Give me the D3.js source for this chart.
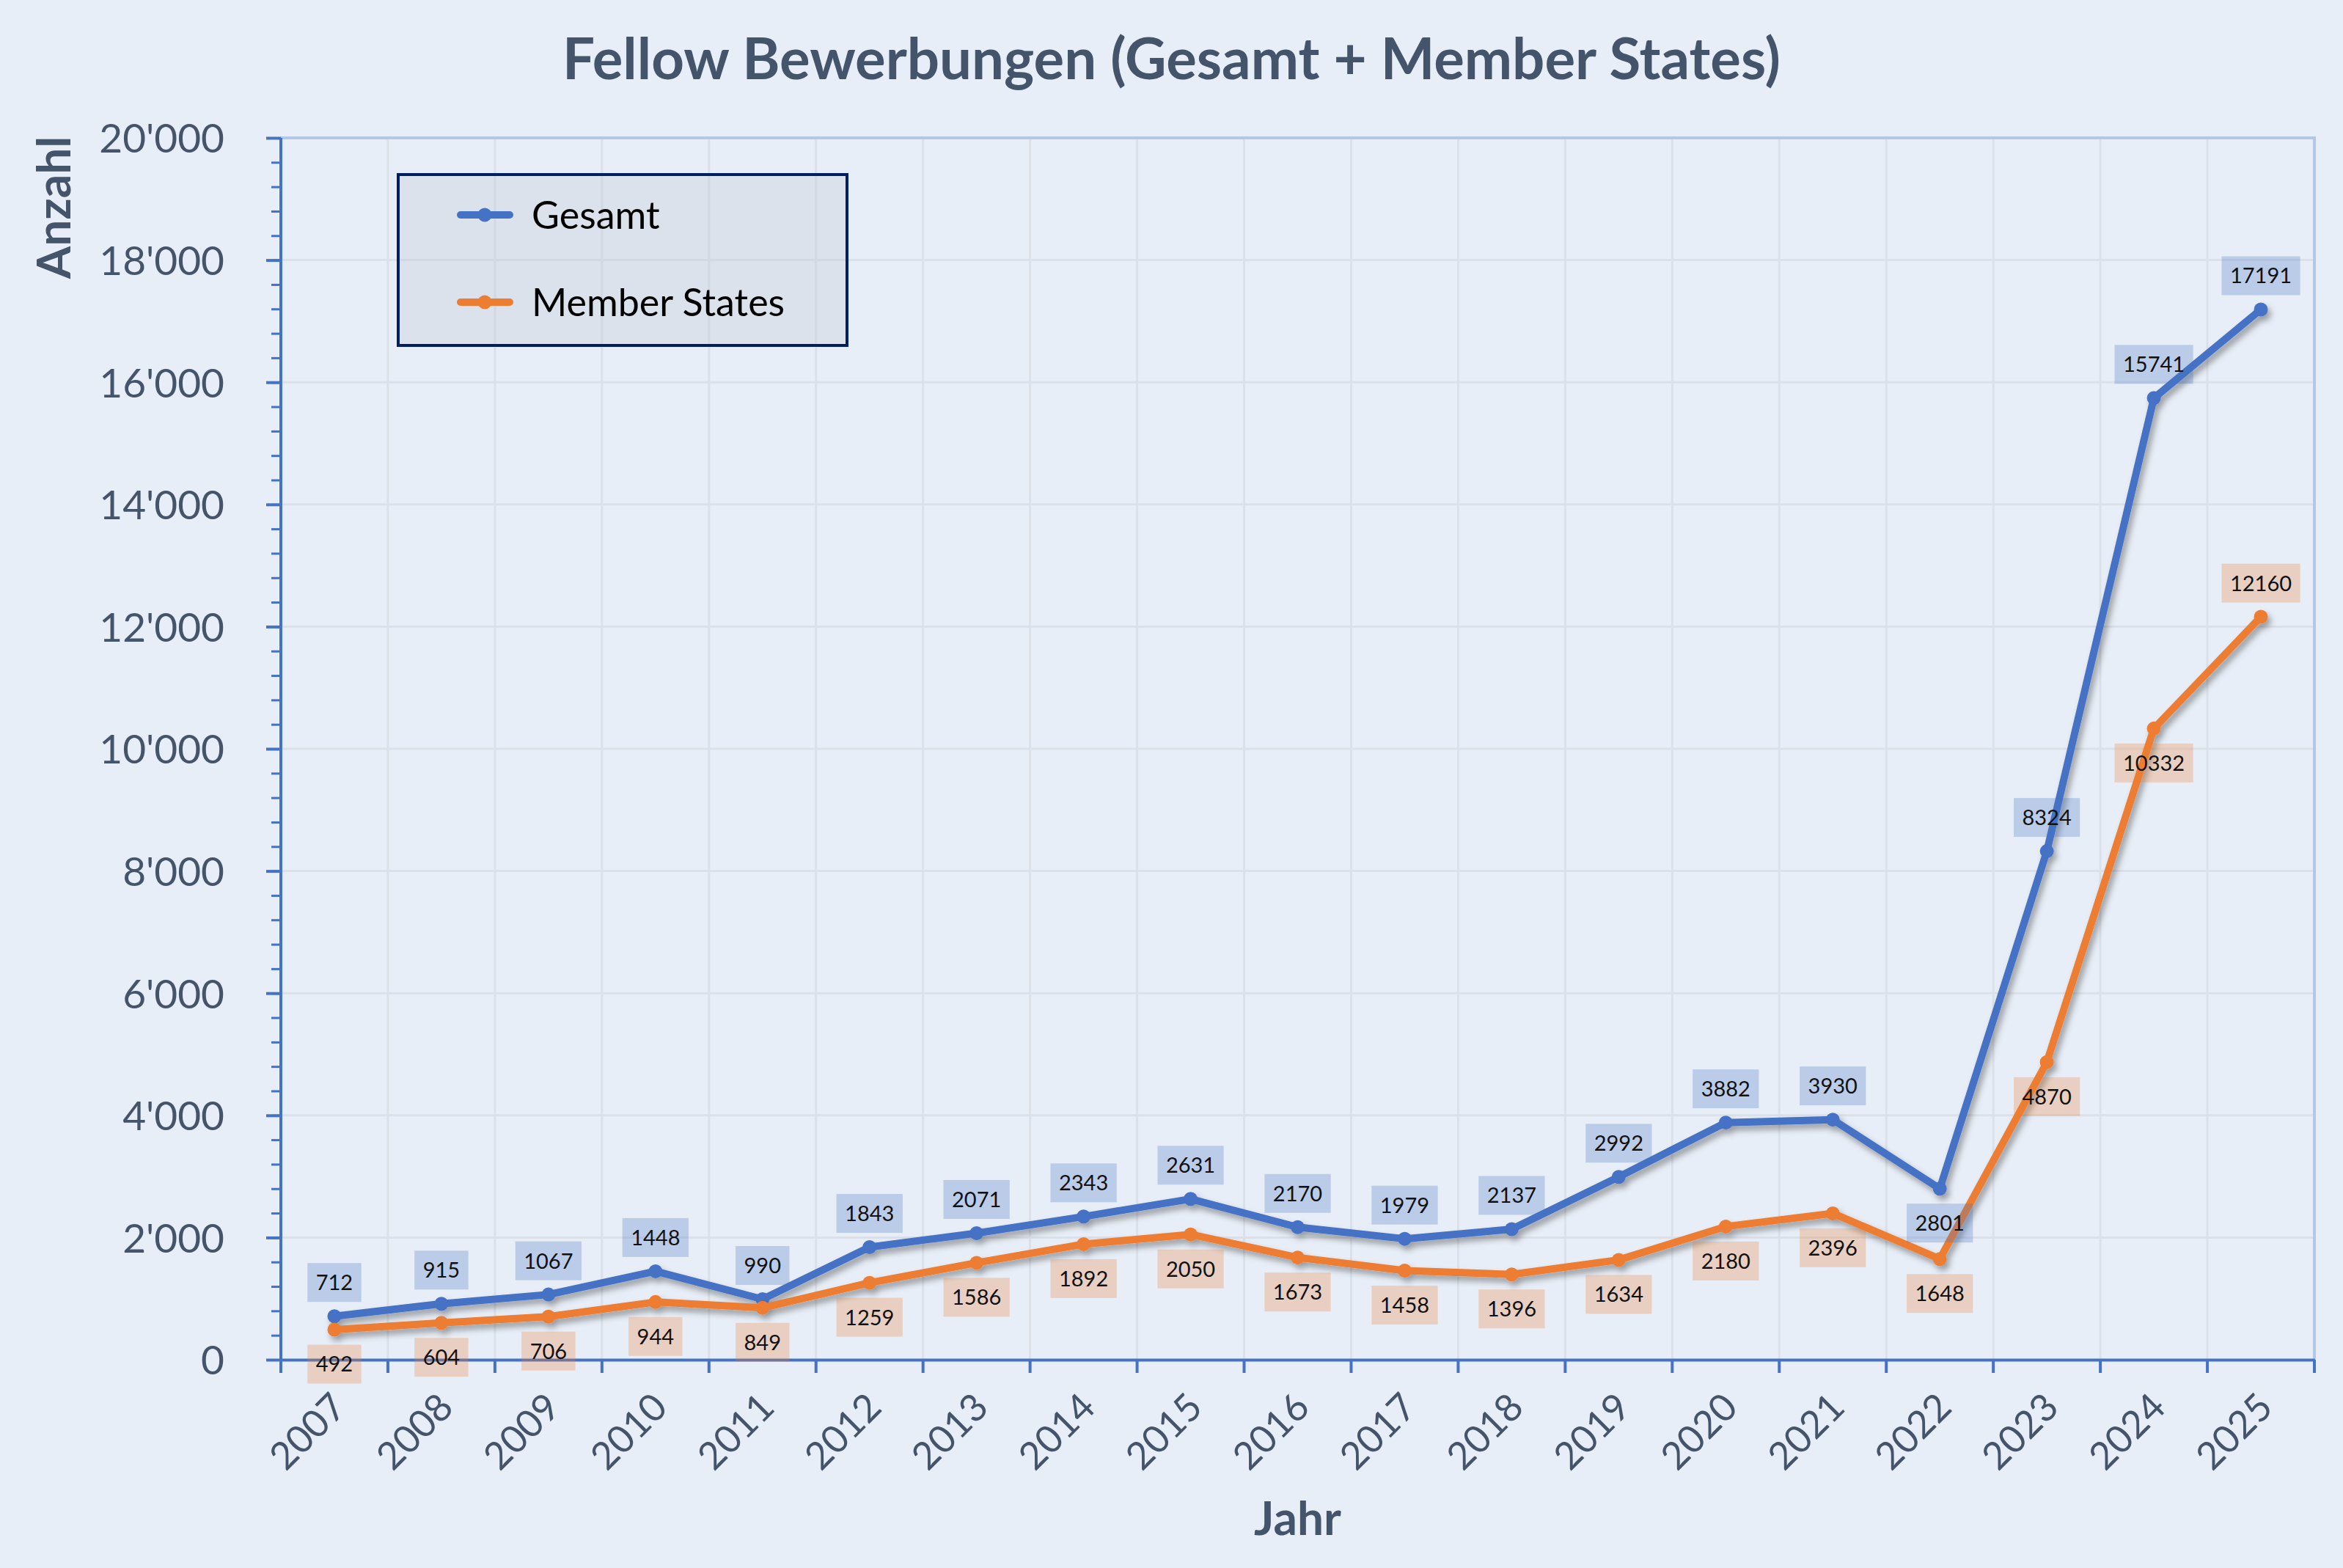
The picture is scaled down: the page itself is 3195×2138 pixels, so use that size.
<!DOCTYPE html>
<html>
<head>
<meta charset="utf-8">
<script src="https://cdn.jsdelivr.net/npm/d3@7/dist/d3.min.js"></script>
<style>
  body { margin: 0; background: #e8eef7; }
  text { font-family: Lato, "Open Sans", sans-serif; }
</style>
</head>
<body>
<div class="CHART"></div>
<script>

// data
var years = ["2007", "2008", "2009", "2010", "2011", "2012", "2013", "2014", "2015", "2016",
             "2017", "2018", "2019", "2020", "2021", "2022", "2023", "2024", "2025"];
var gesamt = [712, 915, 1067, 1448, 990, 1843, 2071, 2343, 2631, 2170,
              1979, 2137, 2992, 3882, 3930, 2801, 8324, 15741, 17191];
var memberStates = [492, 604, 706, 944, 849, 1259, 1586, 1892, 2050, 1673,
                    1458, 1396, 1634, 2180, 2396, 1648, 4870, 10332, 12160];
var yTicks = [0, 2000, 4000, 6000, 8000, 10000, 12000, 14000, 16000, 18000, 20000];
var seriesNames = ["Gesamt", "Member States"];

// where the value boxes sit (1 = above the point, -1 = below)
var gesamtLabelSide = [1, 1, 1, 1, 1, 1, 1, 1, 1, 1, 1, 1, 1, 1, 1, -1, 1, 1, 1];
var memberLabelSide = [-1, -1, -1, -1, -1, -1, -1, -1, -1, -1, -1, -1, -1, -1, -1, -1, -1, -1, 1];

var W = 3195, H = 2138;
var margin = {top: 188, right: 39, bottom: 284, left: 383},
    width = W - margin.left - margin.right,
    height = H - margin.top - margin.bottom;

var blue = "#4472c4", orange = "#ed7d31", textCol = "#44546a";

var svg = d3.select(".CHART").append("svg")
    .attr("width", W)
    .attr("height", H);

var defs = svg.append("defs");
defs.append("filter").attr("id", "shadow")
    .attr("x", "-5%").attr("y", "-5%").attr("width", "115%").attr("height", "115%")
  .append("feDropShadow")
    .attr("dx", 4).attr("dy", 6).attr("stdDeviation", 4)
    .attr("flood-color", "#000").attr("flood-opacity", 0.35);

svg.append("rect").attr("width", W).attr("height", H).attr("fill", "#e8eef7");

var x = d3.scaleBand().domain(years).range([0, width]).padding(0);
var y = d3.scaleLinear().domain([0, 20000]).range([height, 0]);
var cx = function(d) { return x(d) + x.bandwidth() / 2; };

var fmt = function(v) { return d3.format(",")(v).replace(/,/g, "'"); };

var g = svg.append("g").attr("transform", "translate(" + margin.left + "," + margin.top + ")");

// grid
g.append("g").selectAll("line").data(yTicks.slice(1, -1)).enter().append("line")
    .attr("x1", 0).attr("x2", width)
    .attr("y1", y).attr("y2", y)
    .attr("stroke", "#dce1e9").attr("stroke-width", 3);

g.append("g").selectAll("line").data(years.slice(1)).enter().append("line")
    .attr("x1", x).attr("x2", x)
    .attr("y1", 0).attr("y2", height)
    .attr("stroke", "#dce1e9").attr("stroke-width", 3);

// top + right border
g.append("path")
    .attr("d", "M0,0H" + width + "V" + height)
    .attr("fill", "none").attr("stroke", "#b4c7e7").attr("stroke-width", 4);

// y axis, minor ticks first
var minor = d3.range(0, 20001, 400);
g.append("g")
    .call(d3.axisLeft(y).tickValues(minor).tickSize(13).tickFormat(""))
    .call(function(a) { a.select(".domain").remove(); })
    .selectAll("line").attr("stroke", blue).attr("stroke-width", 3);

var yAxis = g.append("g")
    .call(d3.axisLeft(y).tickValues(yTicks).tickSize(20).tickPadding(57).tickFormat(fmt));
yAxis.select(".domain").attr("stroke", blue).attr("stroke-width", 4).attr("d", "M0," + height + "V0");
yAxis.selectAll("line").attr("stroke", blue).attr("stroke-width", 4);
yAxis.selectAll("text")
    .attr("fill", textCol).style("font-size", "55px").attr("dy", "0.36em");

// x axis: ticks on category borders, labels at centers
var xAxis = g.append("g").attr("transform", "translate(0," + height + ")")
    .call(d3.axisBottom(x).tickSize(0).tickPadding(0));
xAxis.select(".domain").attr("stroke", blue).attr("stroke-width", 4);
xAxis.selectAll("text")
    .attr("y", 0).attr("dy", null)
    .attr("transform", "translate(19,68) rotate(-45)")
    .style("text-anchor", "end")
    .style("font-size", "52px")
    .attr("fill", textCol);

xAxis.append("g").selectAll("line").data(years.concat(["end"])).enter().append("line")
    .attr("x1", function(d) { return d == "end" ? width : x(d); })
    .attr("x2", function(d) { return d == "end" ? width : x(d); })
    .attr("y1", 0).attr("y2", 18)
    .attr("stroke", blue).attr("stroke-width", 4);

// lines
var line = d3.line()
    .x(function(d, i) { return cx(years[i]); })
    .y(function(d) { return y(d); });

var series = [
  {name: seriesNames[0], values: gesamt, color: blue, side: gesamtLabelSide},
  {name: seriesNames[1], values: memberStates, color: orange, side: memberLabelSide}
];

series.forEach(function(s) {
  var sg = g.append("g").attr("filter", "url(#shadow)");
  sg.append("path")
      .attr("d", line(s.values))
      .attr("fill", "none")
      .attr("stroke", s.color)
      .attr("stroke-width", 10)
      .attr("stroke-linejoin", "round")
      .attr("stroke-linecap", "round");
  sg.selectAll("circle").data(s.values).enter().append("circle")
      .attr("cx", function(d, i) { return cx(years[i]); })
      .attr("cy", y)
      .attr("r", 9.5)
      .attr("fill", s.color);
});

// value boxes
series.forEach(function(s) {
  var lg = g.append("g");
  s.values.forEach(function(v, i) {
    var px = cx(years[i]), py = y(v);
    var midY = s.side[i] > 0 ? py - 46 : py + 47;
    var lab = lg.append("g");
    var r = lab.append("rect").attr("fill", s.color).attr("fill-opacity", 0.27);
    var t = lab.append("text")
        .attr("x", px).attr("y", midY).attr("dy", "0.36em")
        .attr("text-anchor", "middle")
        .style("font-size", "29px")
        .attr("fill", "#111")
        .text(v);
    var tw = t.node().getComputedTextLength() + 23;
    r.attr("x", px - tw / 2).attr("y", midY - 26.5).attr("width", tw).attr("height", 53);
  });
});

// titles
svg.append("text")
    .attr("x", W / 2).attr("y", 108)
    .attr("text-anchor", "middle")
    .style("font-size", "78px").style("font-weight", "bold")
    .attr("fill", textCol)
    .text("Fellow Bewerbungen (Gesamt + Member States)");

svg.append("text")
    .attr("x", margin.left + width / 2).attr("y", 2093)
    .attr("text-anchor", "middle")
    .style("font-size", "64px").style("font-weight", "bold")
    .attr("fill", textCol)
    .text("Jahr");

svg.append("text")
    .attr("transform", "translate(96,283) rotate(-90)")
    .attr("text-anchor", "middle")
    .style("font-size", "64px").style("font-weight", "bold")
    .attr("fill", textCol)
    .text("Anzahl");

// legend
var leg = svg.append("g");
leg.append("rect")
    .attr("x", 543).attr("y", 238).attr("width", 612).attr("height", 233)
    .attr("fill", "#bfc7d3").attr("fill-opacity", 0.3)
    .attr("stroke", "#002060").attr("stroke-width", 4);

series.forEach(function(s, i) {
  var ly = 293 + i * 119;
  leg.append("line")
      .attr("x1", 628).attr("x2", 695).attr("y1", ly).attr("y2", ly)
      .attr("stroke", s.color).attr("stroke-width", 10).attr("stroke-linecap", "round");
  leg.append("circle").attr("cx", 661).attr("cy", ly).attr("r", 9.5).attr("fill", s.color);
  leg.append("text")
      .attr("x", 725).attr("y", ly).attr("dy", "0.36em")
      .style("font-size", "52px")
      .attr("fill", "#000")
      .text(s.name);
});

</script>
</body>
</html>
